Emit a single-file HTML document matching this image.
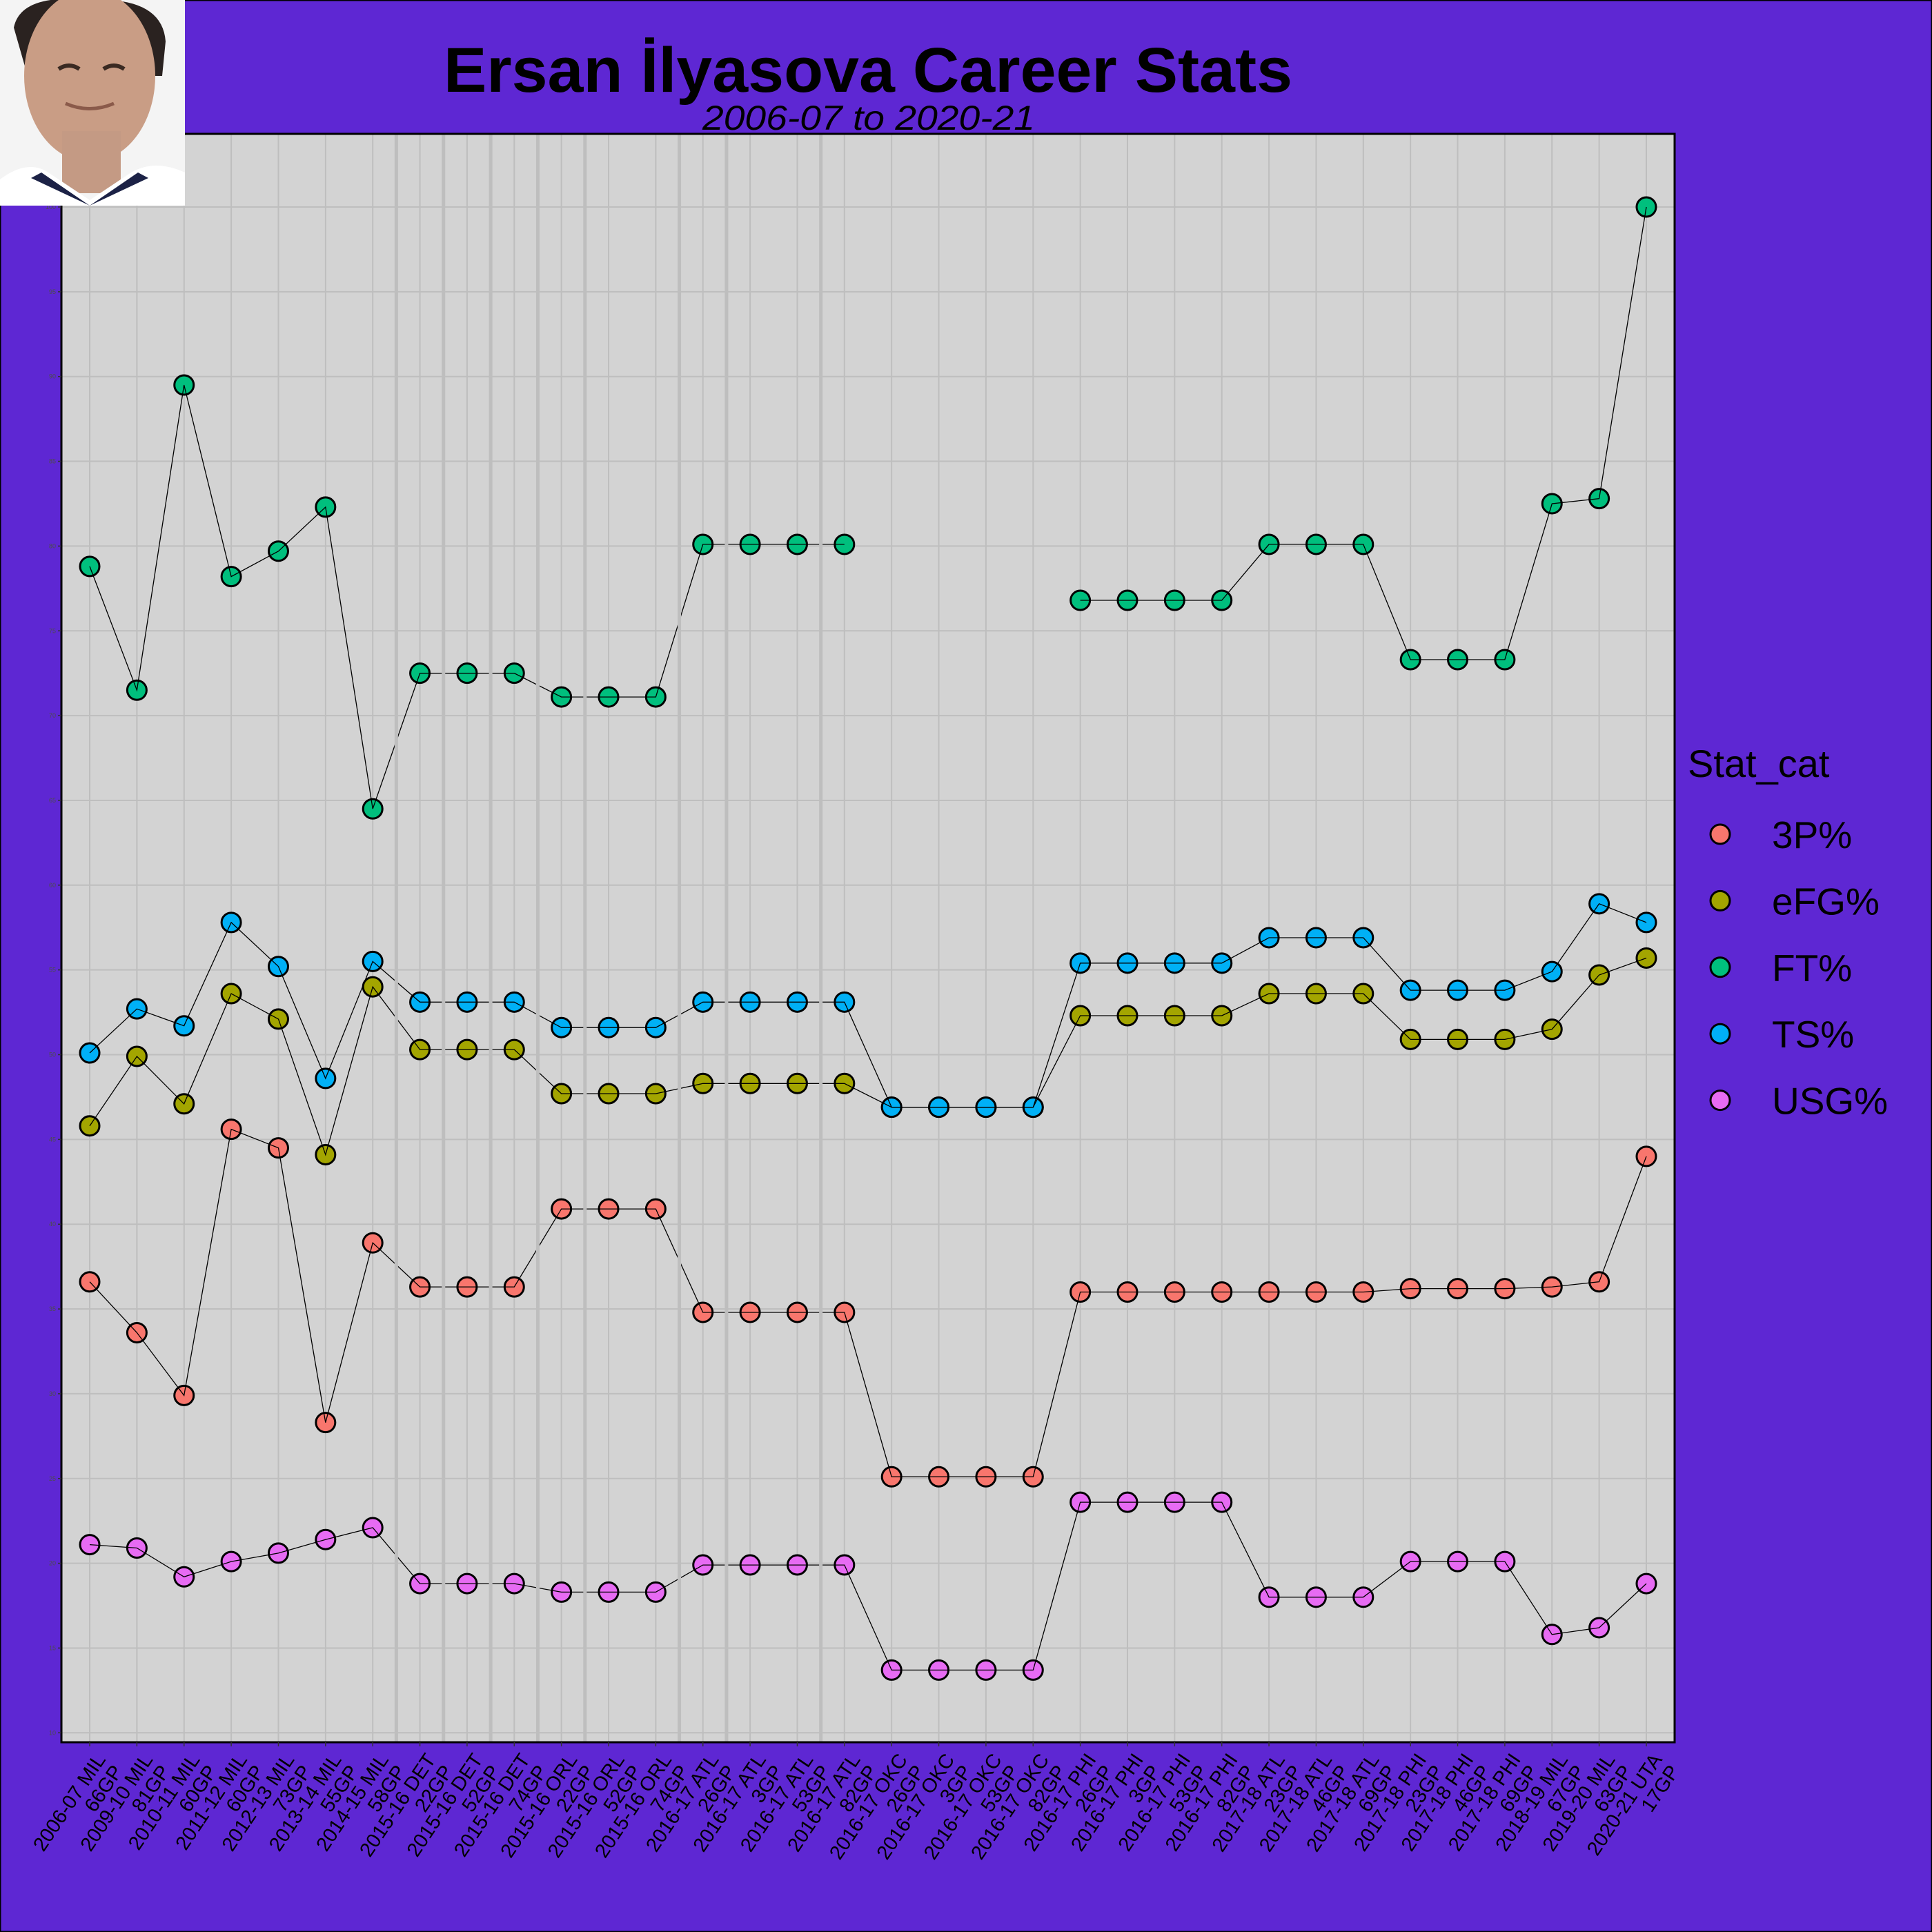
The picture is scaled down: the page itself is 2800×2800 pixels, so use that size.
<!DOCTYPE html>
<html><head><meta charset="utf-8">
<style>
html,body{margin:0;padding:0;background:#5E27D3;}
svg{display:block;}
</style></head>
<body>
<svg id="chart" width="2800" height="2800" xmlns="http://www.w3.org/2000/svg" font-family="Liberation Sans, Arial, sans-serif">
<rect x="0" y="0" width="2800" height="2800" fill="#5E27D3" stroke="#000" stroke-width="3"/>
<rect x="89" y="194" width="2338" height="2331" fill="#D3D3D3"/>
<g id="grid"></g>
<g id="points"></g>
<g id="lines"></g>
<g id="vlines"></g>
<rect x="89" y="194" width="2338" height="2331" fill="none" stroke="#000" stroke-width="3"/>
<g id="yticks"></g>
<g id="xticks"></g>
<text x="643" y="133" font-size="92" font-weight="bold" textLength="1230" lengthAdjust="spacingAndGlyphs" fill="#000">Ersan İlyasova Career Stats</text>
<text x="1018" y="188" font-size="50" font-style="italic" textLength="482" lengthAdjust="spacingAndGlyphs" fill="#000">2006-07 to 2020-21</text>
<g>
<rect x="0" y="0" width="268" height="298" fill="#f4f4f4"/>
<path d="M20 40 Q30 -10 130 0 Q235 -5 240 60 L235 110 L40 110 Z" fill="#2a2220"/>
<ellipse cx="130" cy="110" rx="95" ry="125" fill="#c99d85"/>
<rect x="90" y="190" width="85" height="90" fill="#c49a84"/>
<path d="M0 260 Q40 230 70 250 L130 290 L190 250 Q225 230 268 250 L268 298 L0 298 Z" fill="#ffffff"/>
<path d="M60 250 L130 298 L200 250 L215 258 L130 298 L45 258 Z" fill="#1c2246"/>
<path d="M85 100 Q100 90 115 100 M150 100 Q165 90 180 100" stroke="#3a2a22" stroke-width="6" fill="none"/>
<path d="M95 150 Q130 165 165 150" stroke="#8a5a4a" stroke-width="5" fill="none"/>
</g>
<g>
<text x="2446" y="1126" font-size="56" fill="#000">Stat_cat</text>
<g id="legend-items"></g>
</g>
</svg>
<script>
const categories = ["2006-07 MIL|66GP","2009-10 MIL|81GP","2010-11 MIL|60GP","2011-12 MIL|60GP","2012-13 MIL|73GP","2013-14 MIL|55GP","2014-15 MIL|58GP","2015-16 DET|22GP","2015-16 DET|52GP","2015-16 DET|74GP","2015-16 ORL|22GP","2015-16 ORL|52GP","2015-16 ORL|74GP","2016-17 ATL|26GP","2016-17 ATL|3GP","2016-17 ATL|53GP","2016-17 ATL|82GP","2016-17 OKC|26GP","2016-17 OKC|3GP","2016-17 OKC|53GP","2016-17 OKC|82GP","2016-17 PHI|26GP","2016-17 PHI|3GP","2016-17 PHI|53GP","2016-17 PHI|82GP","2017-18 ATL|23GP","2017-18 ATL|46GP","2017-18 ATL|69GP","2017-18 PHI|23GP","2017-18 PHI|46GP","2017-18 PHI|69GP","2018-19 MIL|67GP","2019-20 MIL|63GP","2020-21 UTA|17GP"];
const seriesNames = ["3P%","eFG%","FT%","TS%","USG%"];
const seriesColors = ["#F8766D","#A3A500","#00BF7D","#00B0F6","#E76BF3"];
const threeP = [36.6,33.6,29.9,45.6,44.5,28.3,38.9,36.3,36.3,36.3,40.9,40.9,40.9,34.8,34.8,34.8,34.8,25.1,25.1,25.1,25.1,36.0,36.0,36.0,36.0,36.0,36.0,36.0,36.2,36.2,36.2,36.3,36.6,44.0];
const eFG = [45.8,49.9,47.1,53.6,52.1,44.1,54.0,50.3,50.3,50.3,47.7,47.7,47.7,48.3,48.3,48.3,48.3,46.9,46.9,46.9,46.9,52.3,52.3,52.3,52.3,53.6,53.6,53.6,50.9,50.9,50.9,51.5,54.7,55.7];
const FT = [78.8,71.5,89.5,78.2,79.7,82.3,64.5,72.5,72.5,72.5,71.1,71.1,71.1,80.1,80.1,80.1,80.1,null,null,null,null,76.8,76.8,76.8,76.8,80.1,80.1,80.1,73.3,73.3,73.3,82.5,82.8,100];
const TS = [50.1,52.7,51.7,57.8,55.2,48.6,55.5,53.1,53.1,53.1,51.6,51.6,51.6,53.1,53.1,53.1,53.1,46.9,46.9,46.9,46.9,55.4,55.4,55.4,55.4,56.9,56.9,56.9,53.8,53.8,53.8,54.9,58.9,57.8];
const USG = [21.1,20.9,19.2,20.1,20.6,21.4,22.1,18.8,18.8,18.8,18.3,18.3,18.3,19.9,19.9,19.9,19.9,13.7,13.7,13.7,13.7,23.6,23.6,23.6,23.6,18.0,18.0,18.0,20.1,20.1,20.1,15.8,16.2,18.8];
const yTicks = [10,15,20,25,30,35,40,45,50,55,60,65,70,75,80,85,90,95,100];
const teamChanges = [6.5,7.5,8.5,9.5,10.5,12.5,13.5,15.5];

const NS = "http://www.w3.org/2000/svg";
const PL = 89, PR = 2427, PT = 194, PB = 2525;
function xs(i){ return PL + (PR - PL) * (i + 0.6) / (categories.length - 1 + 1.2); }
function ys(v){ return 300 + (100 - v) * 24.57; }
function mk(tag, attrs, parent){ const e = document.createElementNS(NS, tag); for (const k in attrs) e.setAttribute(k, attrs[k]); parent.appendChild(e); return e; }

const grid = document.getElementById('grid');
yTicks.forEach(t => {
  const l = mk('line', {x1:PL, x2:PR, y1:ys(t), y2:ys(t), stroke:'#BEBEBE', 'stroke-width':2}, grid);
  
  
});
categories.forEach((c, i) => {
  const l = mk('line', {x1:xs(i), x2:xs(i), y1:PT, y2:PB, stroke:'#BEBEBE', 'stroke-width':2}, grid);
  
  
});

const all = [threeP, eFG, FT, TS, USG];
const pts = document.getElementById('points');
const lines = document.getElementById('lines');
all.forEach((arr, s) => {
  arr.forEach((v, i) => {
    if (v === null) return;
    const c = mk('circle', {cx:xs(i), cy:ys(v), r:14, fill:seriesColors[s], stroke:'#000', 'stroke-width':3}, pts);
    
    
  });
  let d = '', pen = false;
  arr.forEach((v, i) => {
    if (v === null) { pen = false; return; }
    d += (pen ? 'L' : 'M') + xs(i).toFixed(1) + ' ' + ys(v).toFixed(1) + ' ';
    pen = true;
  });
  const p = mk('path', {d:d, fill:'none', stroke:'#000', 'stroke-width':1.3}, lines);
  
  
});

const vl = document.getElementById('vlines');
teamChanges.forEach(t => {
  const l = mk('line', {x1:xs(t), x2:xs(t), y1:PT, y2:PB, stroke:'#BEBEBE', 'stroke-width':5}, vl);
  
  
});

const yt = document.getElementById('yticks');
yTicks.forEach(t => {
  const tk = mk('line', {x1:PL-5, x2:PL, y1:ys(t), y2:ys(t), stroke:'#333', 'stroke-width':1.5}, yt);
  
  
  const tx = mk('text', {x:PL-8, y:ys(t)+3, 'font-size':9, fill:'#4D4D4D', 'text-anchor':'end'}, yt);
  tx.textContent = t;
  
  
});

const xt = document.getElementById('xticks');
categories.forEach((c, i) => {
  const parts = c.split('|');
  const g = mk('g', {transform:'translate(' + (xs(i)+24).toFixed(1) + ',2550) rotate(-56)'}, xt);
  
  
  const t1 = mk('text', {x:0, y:0, 'font-size':29, 'text-anchor':'end', fill:'#000'}, g);
  t1.textContent = parts[0];
  const t2 = mk('text', {x:0, y:30, 'font-size':29, 'text-anchor':'end', fill:'#000'}, g);
  t2.textContent = parts[1];
  const tk = mk('line', {x1:xs(i), x2:xs(i), y1:PB, y2:PB+6, stroke:'#333', 'stroke-width':1.5}, xt);
  
  
});

const li = document.getElementById('legend-items');
seriesNames.forEach((n, s) => {
  const y = 1209 + s * 96.4;
  const c = mk('circle', {cx:2493, cy:y, r:14, fill:seriesColors[s], stroke:'#000', 'stroke-width':3}, li);
  
  
  const t = mk('text', {x:2568, y:y+20, 'font-size':55, fill:'#000'}, li);
  t.textContent = n;
  
  
});
</script>
</body></html>
